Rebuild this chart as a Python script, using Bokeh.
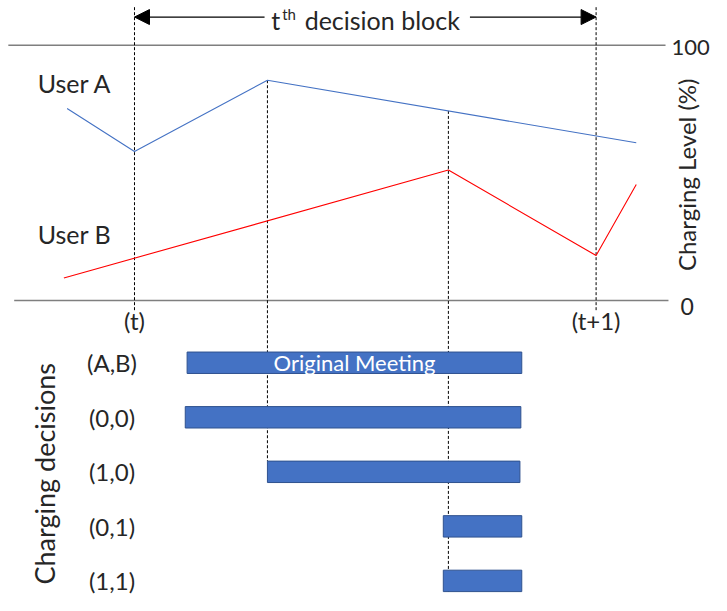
import math
from bokeh.plotting import figure
from bokeh.models import Range1d, Label, Arrow, NormalHead
from bokeh.embed import file_html
from bokeh.resources import INLINE

# ---------------- data ----------------
user_a_t = [-0.146, 0.0, 0.288, 1.087]
user_a_level = [75.2, 58.4, 86.3, 61.8]
user_b_t = [-0.153, 0.680, 1.0, 1.087]
user_b_level = [8.8, 51.1, 17.6, 45.4]

decisions = ["(A,B)", "(0,0)", "(1,0)", "(0,1)", "(1,1)"]
start_t = [0.114, 0.110, 0.288, 0.669, 0.669]
end_t = [0.839, 0.837, 0.835, 0.839, 0.839]

level_ticks = [0, 100]
level_labels = ["0", "100"]
time_ticks = [0, 1]
time_labels = ["(t)", "(t+1)"]

# ---------------- layout helpers (reference pixels -> data) ----------------
PX0, PX_PER_T = 137.0, 472.0
PY0, PY_PER_L = 308.0, 2.62
REF_W, REF_H = 727, 611
W, H = 711, 595


def X(px):
    return (px - PX0) / PX_PER_T


def Y(py):
    return (PY0 - py) / PY_PER_L


FONT = "Lato"
TXT = "#262626"

p = figure(width=W, height=H, output_backend="svg", toolbar_location=None,
           x_range=Range1d(X(0), X(REF_W)), y_range=Range1d(Y(REF_H), Y(0)),
           x_axis_location=None, y_axis_location=None, min_border=0)
p.grid.visible = False
p.outline_line_color = None
p.background_fill_color = "white"

# horizontal level lines (0 and 100)
p.segment(x0=[X(14), X(8)], y0=level_ticks, x1=[X(683), X(680)], y1=level_ticks,
          line_color="#7F7F7F", line_width=1.6)

# row positions for decisions
row_y = [Y(372 + 56 * i) for i in range(len(decisions))]
bar_h = 22 / PY_PER_L

# vertical dashed time lines
p.segment(x0=time_ticks, y0=[Y(318)] * 2, x1=time_ticks, y1=[Y(5)] * 2,
          line_color="black", line_width=1, line_dash="3 2")


def a_at(t):
    for i in range(len(user_a_t) - 1):
        if user_a_t[i] <= t <= user_a_t[i + 1]:
            f = (t - user_a_t[i]) / (user_a_t[i + 1] - user_a_t[i])
            return user_a_level[i] + f * (user_a_level[i + 1] - user_a_level[i])
    return user_a_level[-1]


t_peak_a = user_a_t[2]
t_peak_b = user_b_t[1]
p.segment(x0=[t_peak_a, t_peak_b], y0=[a_at(t_peak_a), a_at(t_peak_b)],
          x1=[t_peak_a, t_peak_b], y1=[row_y[2] + bar_h / 2, row_y[4] - bar_h / 2],
          line_color="black", line_width=1, line_dash="3 2")

# user lines
p.line(user_a_t, user_a_level, line_color="#4472C4", line_width=1.1)
p.line(user_b_t, user_b_level, line_color="#FF0000", line_width=1.1)

# decision bars
p.hbar(y=row_y, left=start_t, right=end_t, height=bar_h,
       fill_color="#4472C4", line_color="#2F528F", line_width=1)


def lab(text, x, y, size, align="left", baseline="middle", angle=0.0, color=TXT):
    p.add_layout(Label(x=x, y=y, text=text, text_font=FONT, text_font_size=size,
                       text_color=color, text_align=align, text_baseline=baseline,
                       angle=angle))


# header arrow
ya = Y(17)
head = dict(size=15, fill_color="black", line_color="black")
p.add_layout(Arrow(end=NormalHead(**head), x_start=X(270), y_start=ya, x_end=0, y_end=ya,
                   line_color="black", line_width=1.3))
p.add_layout(Arrow(end=NormalHead(**head), x_start=X(480), y_start=ya, x_end=1, y_end=ya,
                   line_color="black", line_width=1.3))
lab("t", X(286), Y(20), "25px", align="right")
lab("th", X(288), Y(14), "15px")
lab("decision block", X(311), Y(20), "25px")

# level tick labels
lab(level_labels[1], X(686), Y(48), "22px")
lab(level_labels[0], X(702), Y(314), "23px", align="center")
lab("Charging Level (%)", X(701), Y(179), "24px", align="center", angle=math.pi / 2)

# time tick labels
for t, s in zip(time_ticks, time_labels):
    lab(s, t, Y(329), "24px", align="center")

# user labels
lab("User A", X(38), Y(85), "25px")
lab("User B", X(38), Y(240), "25px")

# decision labels
for yv, s in zip(row_y, decisions):
    lab(s, X(114), yv, "24px", align="center")
lab("Charging decisions", X(45), Y(486), "27px", align="center", angle=math.pi / 2)
lab("Original Meeting", X(362), row_y[0], "22px", align="center", color="white")

open("out.html", "w").write(file_html(p, INLINE))
